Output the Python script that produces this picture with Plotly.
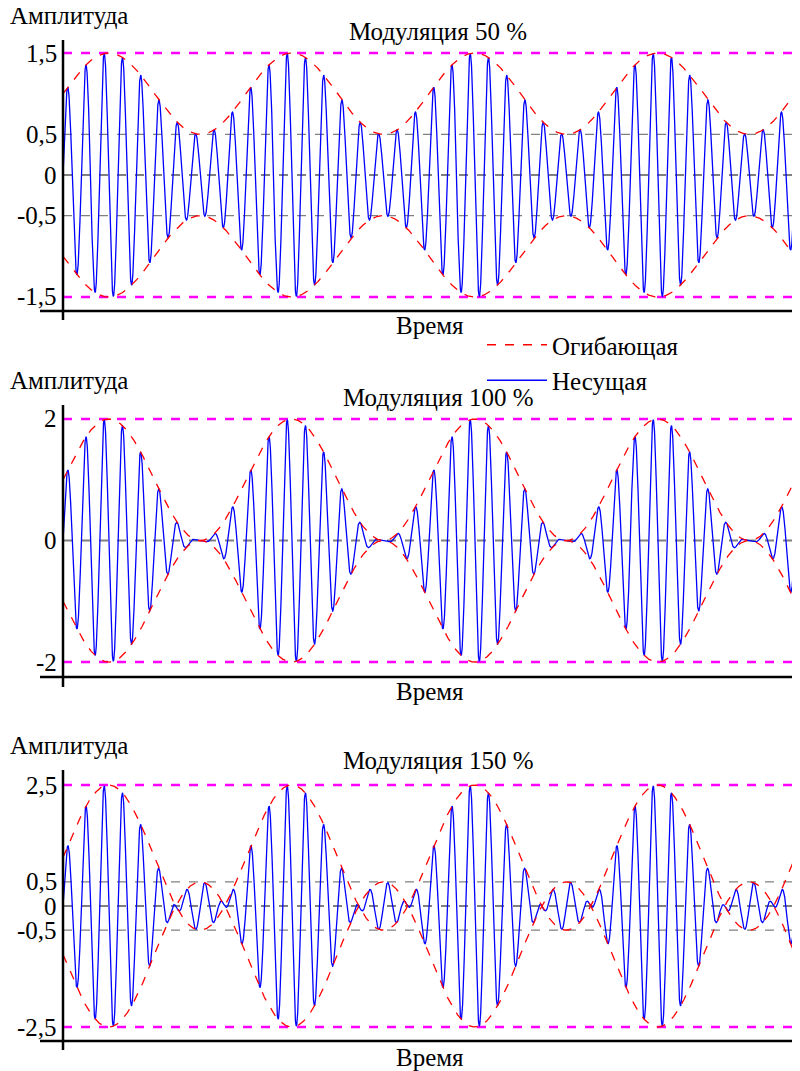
import numpy as np
import plotly.graph_objects as go

# Signal parameters
mod_depths = [0.5, 1.0, 1.5]
titles = ["Модуляция 50 %", "Модуляция 100 %", "Модуляция 150 %"]
envelope_periods = 4
carrier_cycles_per_period = 10
ytick_vals = [[1.5, 0.5, 0, -0.5, -1.5], [2, 0, -2], [2.5, 0.5, 0, -0.5, -2.5]]
ytick_text = [["1,5", "0,5", "0", "-0,5", "-1,5"], ["2", "0", "-2"], ["2,5", "0,5", "0", "-0,5", "-2,5"]]
guide_lines = [[0.5, -0.5], [], [0.5, -0.5]]

OFF = 8  # page body margin
W, H = 800 - OFF, 1071 - OFF
panels = [(40, 320, 1.66, -1.783, -1.672), (405, 687, 2.23, -2.41, -2.247), (770, 1050, 2.81, -2.975, -2.79)]
label_px = [(15, 32, 325), (380, 397, 691), (745, 760, 1057)]

t = np.linspace(0, envelope_periods, 6001)
fig = go.Figure()
FONT = "Liberation Serif, Times New Roman, serif"
ann = []
shapes = []
def py(p):
    return 1 - (p - OFF) / H
for i, m in enumerate(mod_depths):
    sfx = "" if i == 0 else str(i + 1)
    xa, ya = "x" + sfx, "y" + sfx
    env = 1 + m * np.sin(2 * np.pi * t)
    sig = env * np.sin(2 * np.pi * carrier_cycles_per_period * t)
    top, bot, ymax, ymin, axv = panels[i]
    amp = max(ytick_vals[i])
    for v in [amp, -amp]:
        fig.add_trace(go.Scatter(x=[0, envelope_periods], y=[v, v], mode="lines", xaxis=xa, yaxis=ya,
                                 line=dict(color="#ff00ff", width=2.5, dash="dash"), showlegend=False))
    for v in guide_lines[i]:
        fig.add_trace(go.Scatter(x=[0, envelope_periods], y=[v, v], mode="lines", xaxis=xa, yaxis=ya,
                                 line=dict(color="#808080", width=1.3, dash="dash"), showlegend=False))
    fig.add_trace(go.Scatter(x=[0, envelope_periods], y=[0, 0], mode="lines", xaxis=xa, yaxis=ya,
                             line=dict(color="#808080", width=2, dash="dash"), showlegend=False))
    fig.add_trace(go.Scatter(x=t, y=sig, mode="lines", xaxis=xa, yaxis=ya, name="Несущая",
                             line=dict(color="#0000ff", width=1.3), showlegend=(i == 0), legendrank=2))
    fig.add_trace(go.Scatter(x=t, y=env, mode="lines", xaxis=xa, yaxis=ya, name="Огибающая",
                             line=dict(color="#ff0000", width=1.3, dash="dash"), showlegend=(i == 0), legendrank=1))
    fig.add_trace(go.Scatter(x=t, y=-env, mode="lines", xaxis=xa, yaxis=ya,
                             line=dict(color="#ff0000", width=1.3, dash="dash"), showlegend=False))
    dom = [py(bot), py(top)]
    fig.update_layout(**{
        "xaxis" + sfx: dict(domain=[(40 - OFF) / W, (795 - OFF) / W], range=[-0.1257, envelope_periods],
                            visible=False, anchor=ya),
        "yaxis" + sfx: dict(domain=dom, range=[ymin, ymax], visible=False, anchor=xa),
    })
    shapes.append(dict(type="line", xref=xa, yref=ya, x0=-0.1257, x1=envelope_periods, y0=axv, y1=axv,
                       line=dict(color="black", width=2.5)))
    shapes.append(dict(type="line", xref=xa, yref=ya, x0=0, x1=0, y0=ymin, y1=ymax,
                       line=dict(color="black", width=2.5)))
    for v, s in zip(ytick_vals[i], ytick_text[i]):
        ann.append(dict(x=-0.02, y=v, xref=xa, yref=ya, text=s, showarrow=False, xanchor="right",
                        yanchor="middle", font=dict(size=25, family=FONT, color="black")))
    ly, ty, ry = label_px[i]
    ann.append(dict(x=0, y=py(ly), xref="paper", yref="paper", text="Амплитуда", showarrow=False,
                    xanchor="left", yanchor="middle", font=dict(size=25, family=FONT, color="black")))
    ann.append(dict(x=(438 - OFF) / W, y=py(ty), xref="paper", yref="paper", text=titles[i], showarrow=False,
                    xanchor="center", yanchor="middle", font=dict(size=25, family=FONT, color="black")))
    ann.append(dict(x=(430 - OFF) / W, y=py(ry), xref="paper", yref="paper", text="Время", showarrow=False,
                    xanchor="center", yanchor="middle", font=dict(size=25, family=FONT, color="black")))

fig.update_layout(width=W, height=H, margin=dict(l=0, r=0, t=0, b=0), plot_bgcolor="white",
                  paper_bgcolor="white", annotations=ann, shapes=shapes,
                  legend=dict(x=(482 - OFF) / W, y=py(322), xanchor="left", yanchor="top",
                              font=dict(size=25, family=FONT, color="black"), bgcolor="rgba(0,0,0,0)",
                              tracegroupgap=0, itemwidth=60))
fig.write_html("out.html")
